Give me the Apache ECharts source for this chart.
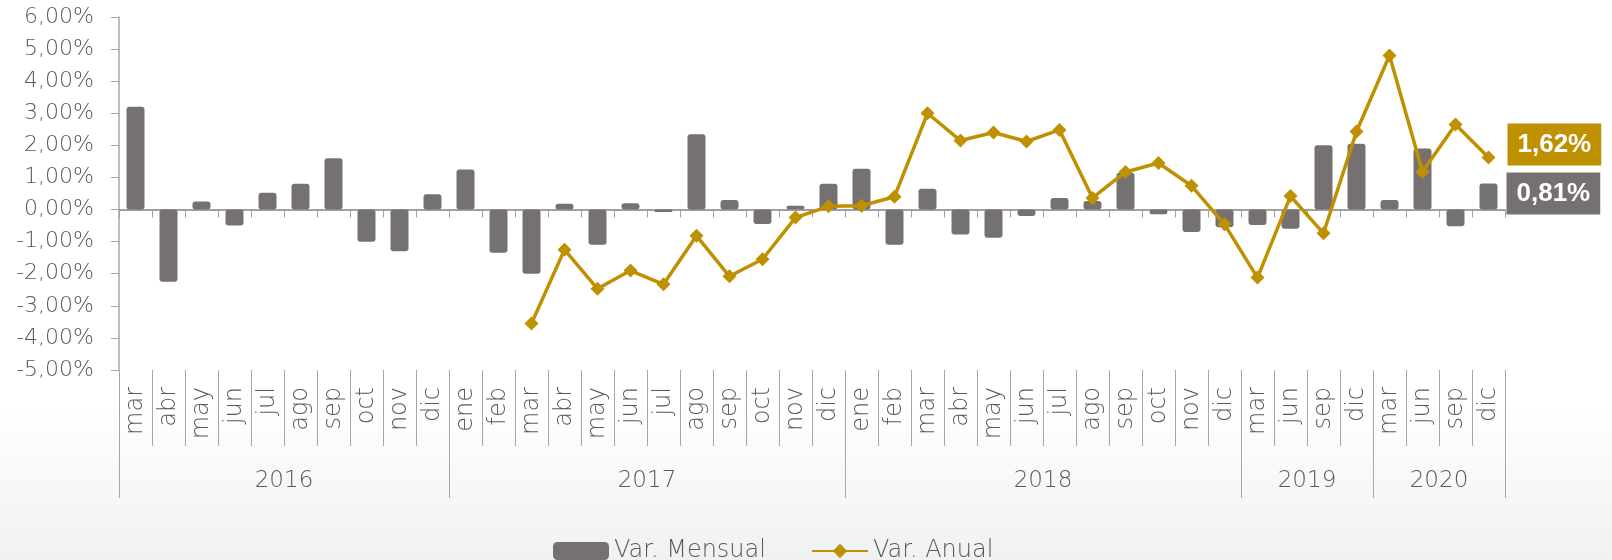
<!DOCTYPE html>
<html>
<head>
<meta charset="utf-8">
<title>Var. Mensual / Var. Anual</title>
<script src="https://cdn.jsdelivr.net/npm/echarts@6/dist/echarts.min.js"></script>
<style>
  html, body { margin: 0; padding: 0; background: #fff; }
  #chart { width: 1612px; height: 560px; }
</style>
</head>
<body>
<div id="chart"></div>
<script>
// categorias (mes) y su año
const meses = [
  'mar', 'abr', 'may', 'jun', 'jul', 'ago', 'sep', 'oct', 'nov', 'dic',
  'ene', 'feb', 'mar', 'abr', 'may', 'jun', 'jul', 'ago', 'sep', 'oct', 'nov', 'dic',
  'ene', 'feb', 'mar', 'abr', 'may', 'jun', 'jul', 'ago', 'sep', 'oct', 'nov', 'dic',
  'mar', 'jun', 'sep', 'dic',
  'mar', 'jun', 'sep', 'dic'
]
const anios = [
  '2016', '2016', '2016', '2016', '2016', '2016', '2016', '2016', '2016', '2016',
  '2017', '2017', '2017', '2017', '2017', '2017', '2017', '2017', '2017', '2017', '2017', '2017',
  '2018', '2018', '2018', '2018', '2018', '2018', '2018', '2018', '2018', '2018', '2018', '2018',
  '2019', '2019', '2019', '2019',
  '2020', '2020', '2020', '2020'
]

// valores en %
const varMensual = [
  3.2, -2.25, 0.25, -0.5, 0.52, 0.8, 1.6, -1.0, -1.3, 0.48,
  1.25, -1.35, -2.0, 0.18, -1.1, 0.2, -0.08, 2.35, 0.3, -0.45, 0.12, 0.8,
  1.27, -1.1, 0.65, -0.78, -0.88, -0.2, 0.36, 0.27, 1.15, -0.15, -0.7, -0.55,
  -0.48, -0.6, 2.0, 2.05,
  0.3, 1.9, -0.52, 0.81
]
const varAnual = [
  null, null, null, null, null, null, null, null, null, null,
  null, null, -3.55, -1.25, -2.47, -1.9, -2.33, -0.82, -2.08, -1.55, -0.25, 0.1,
  0.12, 0.4, 3.0, 2.15, 2.4, 2.12, 2.48, 0.36, 1.17, 1.45, 0.74, -0.46,
  -2.12, 0.42, -0.74, 2.43,
  4.8, 1.18, 2.65, 1.62
]

// eje y
const yMin = -5
const yMax = 6
const yStep = 1

const gris = '#767171'
const oro = '#BF9000'
const texto = '#595959'
const ejes = '#A6A6A6'
const fuente = 'DejaVu Sans'
const peso = 300

const fmt = v => v.toFixed(2).replace('.', ',') + '%'
const lastIdx = meses.length - 1

// etiqueta de la ultima observacion
function withEndLabel(values, color, distance, offset) {
  return values.map((v, i) => {
    if (i !== lastIdx) return v
    return {
      value: v,
      label: {
        show: true,
        position: 'right',
        distance: distance,
        offset: offset,
        backgroundColor: color,
        color: '#fff',
        fontFamily: 'Liberation Sans',
        fontWeight: 'bold',
        fontSize: 26,
        lineHeight: 28,
        padding: [7, 10],
        formatter: p => fmt(p.value)
      }
    }
  })
}

// ticks de año en el limite de cada grupo, etiqueta centrada en el grupo
const yearLabelIdx = []
let start = 0
for (let i = 1; i <= anios.length; i++) {
  if (i === anios.length || anios[i] !== anios[start]) {
    yearLabelIdx.push(start + (i - start) / 2 - 1)
    start = i
  }
}

const chart = echarts.init(document.getElementById('chart'))
chart.setOption({
  animation: false,
  backgroundColor: new echarts.graphic.LinearGradient(0, 0, 0, 1, [
    { offset: 0, color: '#ffffff' },
    { offset: 0.72, color: '#ffffff' },
    { offset: 1, color: '#f1f1f1' }
  ]),
  grid: {
    left: 119,
    right: 107,
    top: 17,
    bottom: 190
  },
  legend: {
    data: ['Var. Mensual', 'Var. Anual'],
    left: 548,
    top: 534,
    itemWidth: 56,
    itemHeight: 18,
    itemGap: 45,
    textStyle: {
      fontFamily: fuente,
      fontWeight: peso,
      fontSize: 24,
      color: texto
    }
  },
  xAxis: [{
    type: 'category',
    data: meses,
    position: 'bottom',
    axisLine: { onZero: true, lineStyle: { color: '#A0A0A0', width: 2 } },
    axisTick: { show: true, length: 8, lineStyle: { color: '#A0A0A0' } },
    axisLabel: { show: false },
    splitLine: { show: false }
  }, {
    type: 'category',
    data: meses,
    position: 'bottom',
    axisLine: { show: false, onZero: false },
    axisTick: { show: true, length: 76, lineStyle: { color: ejes } },
    axisLabel: {
      interval: 0,
      rotate: 90,
      margin: 17,
      fontFamily: fuente,
      fontWeight: peso,
      fontSize: 24,
      color: texto
    },
    splitLine: { show: false }
  }, {
    type: 'category',
    data: anios,
    position: 'bottom',
    axisLine: { show: false, onZero: false },
    axisTick: {
      show: true,
      length: 128,
      interval: i => i === 0 || anios[i] !== anios[i - 1],
      lineStyle: { color: ejes }
    },
    axisLabel: {
      interval: i => yearLabelIdx.indexOf(i) !== -1,
      margin: 99,
      padding: [0, 0, 0, 33],
      fontFamily: fuente,
      fontWeight: peso,
      fontSize: 23,
      lineHeight: 24,
      color: texto
    },
    splitLine: { show: false }
  }],
  yAxis: {
    type: 'value',
    min: yMin,
    max: yMax,
    interval: yStep,
    axisLine: { show: true, lineStyle: { color: ejes, width: 1.5 } },
    axisTick: { show: true, length: 8, lineStyle: { color: ejes } },
    axisLabel: {
      formatter: fmt,
      margin: 25,
      fontFamily: fuente,
      fontWeight: peso,
      fontSize: 22,
      color: texto
    },
    splitLine: { show: false }
  },
  series: [{
    name: 'Var. Mensual',
    type: 'bar',
    xAxisIndex: 0,
    barWidth: 18,
    itemStyle: { color: gris, borderRadius: 3 },
    data: withEndLabel(varMensual, gris, 9, [0, -3])
  }, {
    name: 'Var. Anual',
    type: 'line',
    xAxisIndex: 0,
    symbol: 'diamond',
    symbolSize: 14,
    showAllSymbol: true,
    lineStyle: { color: oro, width: 3.5 },
    itemStyle: { color: oro },
    z: 3,
    data: withEndLabel(varAnual, oro, 12, [0, -13])
  }]
})
</script>
</body>
</html>
